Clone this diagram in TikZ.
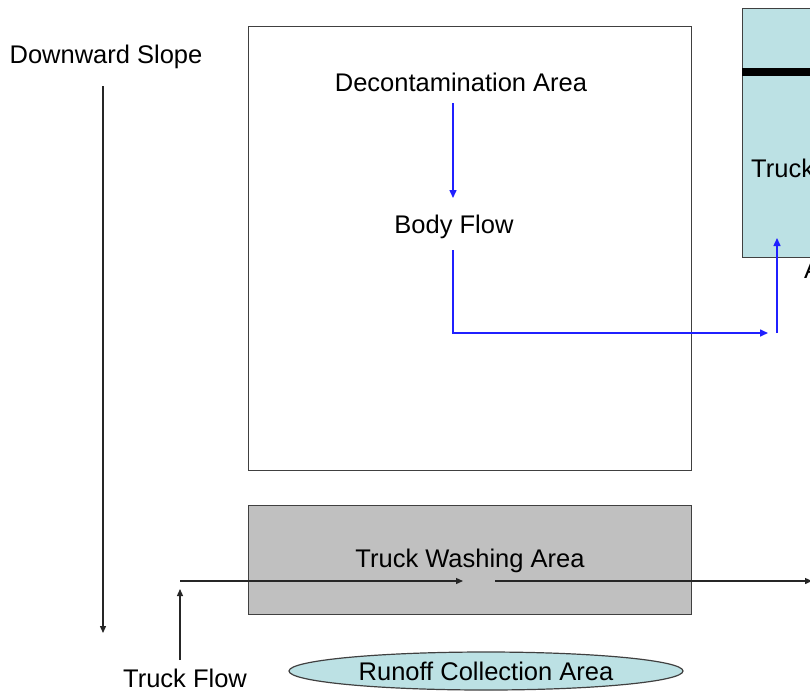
\documentclass[tikz,border=0pt]{standalone}
\usepackage{fontspec}
\setmainfont{Liberation Sans}
\usetikzlibrary{arrows.meta,shapes.geometric}
\definecolor{lblue}{HTML}{BCE1E4}
\definecolor{wgray}{HTML}{C0C0C0}
\definecolor{edge}{HTML}{404040}
\definecolor{flowblue}{HTML}{2020FF}
\tikzset{
  lbl/.style={font=\fontsize{25.5}{30}\selectfont, inner sep=0pt},
  area/.style={draw=edge, line width=1.2pt, anchor=north west, inner sep=0pt},
  blk/.style={draw=black!85, line width=1.3pt, -{Triangle[length=7pt,width=6pt]}},
  blu/.style={draw=flowblue, line width=1.5pt, -{Triangle[length=8pt,width=7pt]}},
}
\begin{document}
\begin{tikzpicture}[x=1pt,y=-1pt]
\useasboundingbox (0,0) rectangle (810,691);
\clip (0,0) rectangle (810,691);
% areas
\node[area, fill=white, minimum width=443pt, minimum height=444pt] (big) at (248,26) {};
\node[area, fill=lblue, minimum width=100pt, minimum height=249pt] (truckbox) at (742,8) {};
\draw[line width=8pt] (truckbox.west |- 0,72) -- ++(100,0);
\node[area, fill=wgray, minimum width=443pt, minimum height=109pt] (wash) at (248,505) {};
\node[ellipse, draw=edge, line width=1.2pt, fill=lblue, minimum width=394pt, minimum height=38pt, inner sep=0pt] (runoff) at (486,671) {};
% labels
\node[lbl] (slope) at (106,57) {Downward Slope};
\node[lbl] (dec) at (461,82) {Decontamination Area};
\node[lbl] (body) at (454,227) {Body Flow};
\node[lbl, anchor=west] (truck) at (751,168) {Truck};
\node[lbl, anchor=west] (aa) at (804,270) {A};
\node[lbl] (washlbl) at (470,561) {Truck Washing Area};
\node[lbl] (tflow) at (185,678) {Truck Flow};
\node[lbl] (runlbl) at (486,671) {Runoff Collection Area};
% coordinates
\coordinate (s1) at (103,86);
\coordinate (s2) at (103,633);
\coordinate (b1) at (453,103);
\coordinate (b2) at (453,198);
\coordinate (c1) at (453,250);
\coordinate (c2) at (453,333);
\coordinate (c3) at (768,333);
\coordinate (d1) at (777,333);
\coordinate (d2) at (777,238);
\coordinate (t1) at (180,660);
\coordinate (t2) at (180,589);
\coordinate (h1) at (180,581);
\coordinate (h2) at (463,581);
\coordinate (h3) at (495,581);
\coordinate (h4) at (812,581);
% connectors
\draw[blk] (s1) -- (s2);
\draw[blu] (b1) -- (b2);
\draw[blu] (c1) -- (c2) -- (c3);
\draw[blu] (d1) -- (d2);
\draw[blk] (t1) -- (t2);
\draw[blk] (h1) -- (h2);
\draw[blk] (h3) -- (h4);
\end{tikzpicture}
\end{document}
